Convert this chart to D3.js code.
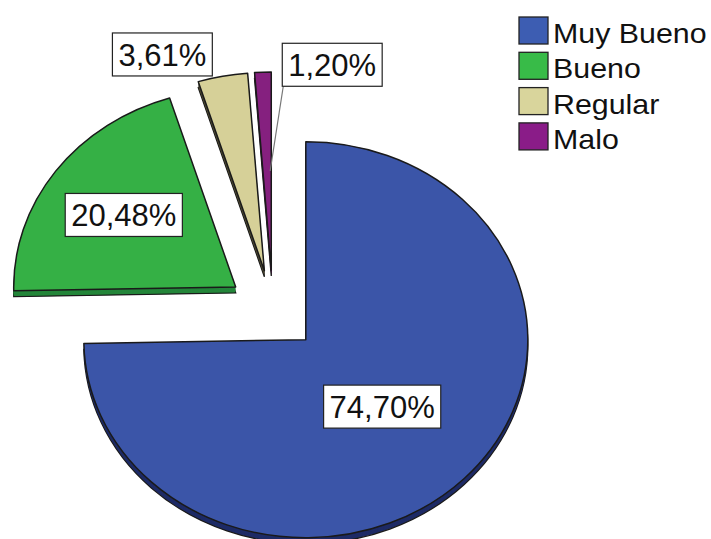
<!DOCTYPE html>
<html>
<head>
<meta charset="utf-8">
<script src="https://cdn.jsdelivr.net/npm/d3@7/dist/d3.min.js"></script>
<style>
  html, body { margin: 0; padding: 0; background: #ffffff; }
  svg { display: block; }
  text { font-family: Arial, "Liberation Sans", sans-serif; fill: #111; }
</style>
</head>
<body>
<script>
// Categories and their percentages
const categories = ["Muy Bueno", "Bueno", "Regular", "Malo"];
const percentages = [74.70, 20.48, 3.61, 1.20];
const fillColors = ["#3b55a8", "#35b045", "#d6d098", "#85207f"];
const sideColors = ["#1e2b66", "#24863a", "#4a4630", "#4e0f4c"];
const legendColors = ["#3d5db2", "#38bb48", "#d9d59c", "#8a1c88"];
const labelTexts = percentages.map(v => d3.format(".2f")(v).replace(".", ",") + "%");

// Pie geometry
const W = 711, H = 539;
const cx = 273, cy = 311;
const R = 222;
const tilt = 0.892;     // vertical squash of the pie
const explode = 46;     // distance every slice is pulled out
const depth = 6;        // thickness of the pie

// Label placement: angular shift (deg) from the slice mid-angle and radius
const labelPlace = [
  { shift: 0, r: 107 },
  { shift: 0, r: 138 },
  { shift: -12, r: 263 },
  { shift: 17, r: 238 }
];

const svg = d3.select("body").append("svg")
  .attr("width", W).attr("height", H);

const pie = d3.pie().sort(null).value(d => d.value);
const arcs = pie(categories.map((c, i) => ({ name: c, value: percentages[i], i })));
const arc = d3.arc().innerRadius(0).outerRadius(R);

function polar(angle, r) {
  return [r * Math.sin(angle), -r * Math.cos(angle) * tilt];
}

const apex = arcs.map(a => {
  const mid = (a.startAngle + a.endAngle) / 2;
  const [ox, oy] = polar(mid, explode);
  return [cx + ox, cy + oy];
});

const slices = svg.append("g");

arcs.forEach((a, i) => {
  const g = slices.append("g")
    .attr("transform", `translate(${apex[i][0]},${apex[i][1]}) scale(1,${tilt})`);
  // side wall: stacked copies of the slice shifted downward
  for (let k = depth; k >= 1; k--) {
    g.append("path")
      .attr("d", arc(a))
      .attr("transform", `translate(0,${k / tilt})`)
      .attr("fill", sideColors[i])
      .attr("stroke", k === depth ? "#1a1a1a" : "none")
      .attr("stroke-width", 1.3)
      .attr("vector-effect", "non-scaling-stroke");
  }
  // top face
  g.append("path")
    .attr("d", arc(a))
    .attr("fill", fillColors[i])
    .attr("stroke", "#1a1a1a")
    .attr("stroke-width", 1.5)
    .attr("stroke-linejoin", "round")
    .attr("vector-effect", "non-scaling-stroke");
});

// Percentage labels
const fontSize = 31;
const labels = svg.append("g");
arcs.forEach((a, i) => {
  const mid = (a.startAngle + a.endAngle) / 2 + labelPlace[i].shift * Math.PI / 180;
  const [dx, dy] = polar(mid, labelPlace[i].r);
  const lx = apex[i][0] + dx, ly = apex[i][1] + dy;
  const lg = labels.append("g");
  const rect = lg.append("rect").attr("fill", "#fff").attr("stroke", "#222").attr("stroke-width", 1.2);
  const t = lg.append("text")
    .attr("x", lx).attr("y", ly + fontSize * 0.36)
    .attr("text-anchor", "middle")
    .style("font-size", fontSize + "px")
    .text(labelTexts[i]);
  const w = t.node().getComputedTextLength() + 12;
  const h = 43;
  rect.attr("x", lx - w / 2).attr("y", ly - h / 2).attr("width", w).attr("height", h);

  // leader line for the smallest slice
  if (i === categories.length - 1) {
    const [ex, ey] = polar(a.endAngle - 0.01, R * 0.5);
    lg.insert("line", "rect")
      .attr("x1", lx - w / 2 + 1).attr("y1", ly + h / 2)
      .attr("x2", apex[i][0] + ex).attr("y2", apex[i][1] + ey)
      .attr("stroke", "#777").attr("stroke-width", 1.2);
  }
});

// Legend
const legend = svg.append("g").attr("transform", "translate(519,17)");
const step = 35.3;
categories.forEach((c, i) => {
  const row = legend.append("g").attr("transform", `translate(0,${i * step})`);
  row.append("rect")
    .attr("width", 29).attr("height", 27)
    .attr("fill", legendColors[i])
    .attr("stroke", "#222").attr("stroke-width", 1.3);
  row.append("text")
    .attr("transform", "translate(34,26) scale(1.085,1)")
    .style("font-size", "28px")
    .text(c);
});
</script>
</body>
</html>
